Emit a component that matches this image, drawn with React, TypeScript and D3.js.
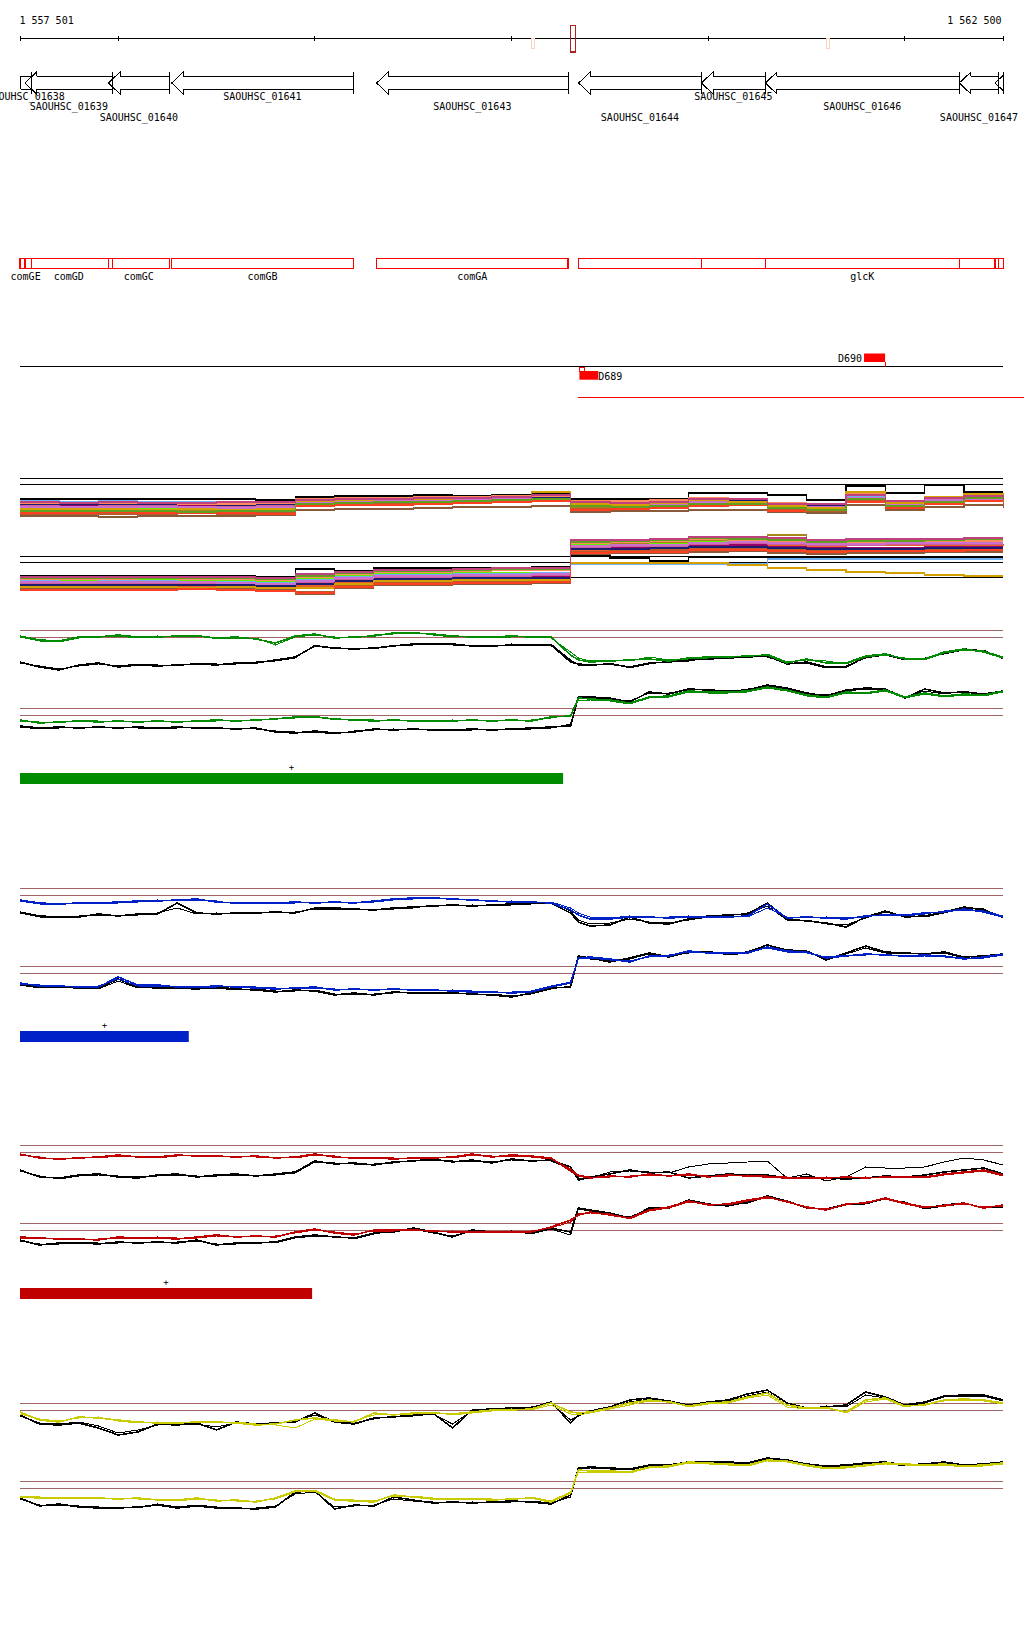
import React from "react";
import * as d3 from "d3";

// ---------- genome view ----------
const VIEW_START = 1557501;
const VIEW_END = 1562500;
const PROBE_ORIGIN = 1557500;
const axisTicks = [VIEW_START, 1558000, 1559000, 1560000, 1561000, 1562000, VIEW_END];
const axisLabels = ["1 557 501", "1 562 500"];
const axisMarks = [1560108, 1561609];
const cursorPos = 1560311;

// ---------- genes (all on minus strand) ----------
const geneIds = ["SAOUHSC_01638", "SAOUHSC_01639", "SAOUHSC_01640", "SAOUHSC_01641", "SAOUHSC_01643", "SAOUHSC_01644", "SAOUHSC_01645", "SAOUHSC_01646", "SAOUHSC_01647", "SAOUHSC_01648"];
const geneStarts = [1557440, 1557526, 1557950, 1558272, 1559314, 1560341, 1560965, 1561290, 1562276, 1562458];
const geneEnds = [1557558, 1557972, 1558260, 1559195, 1560287, 1560965, 1561290, 1562276, 1562477, 1562560];
const geneNames = ["comGE", "comGD", "comGC", "comGB", "comGA", "", "", "glcK", "", ""];
const geneLabelRow = [0, 1, 2, 0, 1, 2, 0, 1, 2, -1];

// ---------- features ----------
const featNames = ["D689", "D690"];
const featStarts = [1560345, 1561792];
const featEnds = [1560441, 1561899];
const featStrands = [-1, 1];
const regionStart = 1560338;

// ---------- probe grids ----------
const probeOffsets = [...d3.range(0, 2801, 100), 2840, ...d3.range(2900, 5001, 100)];
const multiOffsets = d3.range(0, 5001, 200);

const panelThresholds = [110, 103, 32, 25];
const multiThresholds = [122, 116, 44, 38];

// ---------- green panel ----------
const gUpC1 = [104,100,99,103,103,105,103,103,104,104,102,103,101,97,104,106,102,103,104,107,107,106,104,103,103,104,103,103,85,80,78,79,80,81,79,82,83,83,84,85,77,81,77,77,84,86,81,81,88,91,88,82];
const gUpC2 = [103,99,98,102,104,104,102,104,103,105,101,102,102,95,103,105,103,102,105,106,108,105,103,104,102,103,104,102,88,82,79,80,79,83,80,81,82,84,83,86,78,80,79,76,83,85,82,80,87,90,89,83];
const gUpK1 = [78,73,70,75,77,73,75,74,75,76,75,77,77,80,83,94,92,91,92,94,96,96,96,94,94,95,95,95,78,76,75,76,73,77,78,80,81,82,83,84,76,78,73,73,83,86,81,81,87,91,89,82];
const gUpK2 = [77,74,71,74,76,74,76,75,74,77,76,76,78,79,82,95,91,92,91,95,95,97,95,95,93,96,94,96,80,75,74,77,72,76,79,79,82,81,84,83,77,77,72,74,82,85,80,82,86,90,90,81];
const gLoC1 = [20,17,18,19,18,19,18,19,18,19,20,19,20,21,23,23,21,20,19,20,19,19,19,20,19,20,19,23,24,42,41,40,37,43,44,49,48,48,49,53,50,45,43,48,47,50,43,47,44,46,45,49];
const gLoC2 = [19,18,17,20,19,18,19,18,19,18,19,20,19,22,22,24,20,21,20,19,20,18,20,19,20,19,20,22,25,40,40,39,36,42,43,48,47,47,48,52,49,44,42,47,46,49,42,46,43,45,44,48];
const gLoK1 = [14,12,13,12,13,12,13,12,13,12,12,11,12,8,7,9,7,8,11,10,11,10,10,11,10,11,12,13,14,43,43,42,38,48,46,51,50,49,50,55,52,47,44,50,52,51,42,51,47,48,46,49];
const gLoK2 = [13,11,12,13,12,13,12,11,12,13,11,12,11,9,8,8,6,9,10,11,10,11,9,10,11,10,11,12,16,42,42,41,39,47,47,50,51,48,51,54,51,46,45,49,51,50,43,49,46,49,45,48];

// ---------- blue panel ----------
const bUpC1 = [98,95,94,95,95,96,97,97,98,99,96,95,95,95,96,95,96,95,97,99,100,100,99,98,97,96,96,95,88,83,79,79,81,81,80,81,81,81,82,94,80,81,80,79,82,83,83,85,86,89,86,81];
const bUpC2 = [97,94,93,96,94,95,96,98,97,98,97,94,96,94,95,96,95,96,96,98,99,101,98,99,96,97,95,96,90,85,81,80,82,80,81,82,80,82,81,90,81,80,81,80,81,84,82,84,87,88,87,82];
const bUpK1 = [86,82,81,81,84,82,84,84,95,85,84,85,85,86,85,90,90,89,88,90,91,92,93,92,93,94,95,95,85,76,72,73,81,75,74,79,82,83,84,95,79,77,75,71,81,87,81,82,86,91,88,81];
const bUpK2 = [85,81,80,82,83,83,83,85,90,84,85,84,86,85,86,89,89,88,89,89,90,93,92,93,92,93,94,96,87,78,74,75,79,76,75,78,81,82,85,92,78,78,74,73,80,86,82,81,85,90,89,80];
const bLoC1 = [15,12,12,11,11,21,13,13,11,11,12,11,10,9,10,11,8,9,8,9,8,8,7,6,6,5,6,11,15,40,41,39,36,42,42,47,45,45,45,51,47,46,40,42,44,43,42,43,42,39,41,44];
const bLoC2 = [14,13,11,12,12,19,12,12,12,10,11,12,11,10,9,10,9,8,9,8,9,7,8,7,5,6,7,12,16,39,40,38,37,41,43,46,46,44,46,50,46,45,41,43,43,44,41,42,41,40,40,43];
const bLoK1 = [14,11,11,10,10,19,11,10,10,9,11,9,8,6,8,7,3,5,3,6,5,5,5,4,3,1,5,10,11,42,40,36,40,45,41,46,46,44,46,53,48,47,38,45,52,46,45,44,46,41,42,44];
const bLoK2 = [13,10,12,11,9,17,10,11,9,10,10,8,9,7,7,8,4,4,4,5,6,4,6,3,4,2,4,9,12,41,39,37,39,44,42,45,47,43,45,51,47,46,39,44,50,45,44,45,45,40,43,43];

// ---------- red panel ----------
const rUpC1 = [101,97,96,97,98,100,98,98,100,99,99,98,99,97,98,101,98,97,97,96,97,97,98,101,98,100,99,97,84,79,77,79,78,81,79,81,78,80,79,78,77,77,77,78,77,78,78,78,81,83,85,80];
const rUpC2 = [100,98,95,98,97,99,99,97,99,100,98,99,98,98,97,100,99,96,98,97,96,98,97,100,99,99,98,96,86,80,78,78,79,80,80,80,79,79,80,79,78,76,78,77,78,77,79,77,80,82,84,79];
const rUpK1 = [85,78,77,80,81,78,77,80,81,78,80,81,79,81,83,94,91,92,90,93,94,96,93,95,92,96,94,95,88,75,78,81,85,82,83,77,79,81,80,80,77,78,77,76,77,79,78,80,83,85,87,81];
const rUpK2 = [84,79,76,79,80,79,78,79,80,79,79,80,80,80,82,93,92,91,91,92,95,95,94,94,93,95,95,94,86,77,77,83,84,83,82,88,91,92,93,94,77,81,74,78,88,87,87,88,93,97,95,90];
const rLoC1 = [18,17,16,16,15,18,17,17,16,18,20,18,19,18,23,26,22,20,25,25,25,24,23,23,23,23,23,28,35,40,43,40,37,45,48,54,50,51,55,58,53,48,45,51,52,57,52,48,49,52,47,50];
const rLoC2 = [17,16,17,15,16,17,16,18,17,17,19,19,18,19,22,25,23,21,24,24,26,23,24,22,24,22,24,27,33,41,42,41,36,44,47,53,51,50,54,57,54,47,46,50,53,56,51,47,50,51,48,49];
const rLoK1 = [15,10,12,12,11,13,12,13,12,15,10,12,12,13,18,20,18,17,22,23,27,23,18,25,23,23,22,27,23,47,45,42,37,47,47,55,51,49,53,59,54,47,46,51,52,57,52,47,50,52,47,49];
const rLoK2 = [14,11,11,13,12,12,13,12,13,14,11,11,13,12,17,19,19,16,21,24,26,22,19,24,22,24,21,26,20,46,44,41,38,46,48,54,50,50,52,58,53,48,45,50,51,56,53,46,49,51,48,48];

// ---------- yellow panel ----------
const yUpC1 = [101,93,91,96,95,93,91,90,90,91,91,90,88,89,93,95,93,91,100,98,100,100,99,101,103,103,104,110,101,100,101,105,110,113,111,107,110,111,116,120,108,105,105,101,113,115,107,108,113,114,113,110];
const yUpC2 = [99,94,92,95,96,92,90,91,89,92,90,91,89,88,85,94,92,92,98,99,99,101,98,100,102,104,103,108,99,98,100,104,108,112,112,106,109,110,115,118,106,104,106,100,111,114,106,109,112,113,112,109];
const yUpK1 = [98,89,88,90,85,78,81,89,88,90,83,91,89,90,91,100,91,89,95,96,98,100,85,103,104,105,105,111,90,98,102,106,113,115,112,108,111,113,119,123,110,105,106,108,121,116,108,111,117,118,118,113];
const yUpK2 = [97,90,89,91,87,80,83,88,89,89,86,90,90,89,92,98,92,90,94,97,97,99,89,102,103,104,106,110,93,97,101,105,111,114,111,107,110,112,117,121,108,104,107,106,118,115,107,110,116,117,117,112];
const yLoC1 = [16,15,15,15,15,14,15,13,13,15,12,13,11,15,22,22,13,12,11,18,16,14,14,14,13,14,15,11,20,43,42,42,41,46,47,51,50,49,48,53,52,48,45,46,48,50,49,48,49,47,48,50];
const yLoC2 = [17,16,14,16,15,15,14,14,12,14,13,12,12,14,21,23,14,13,12,17,17,15,13,15,14,13,16,12,21,41,41,41,40,45,46,50,49,48,47,52,51,47,44,45,47,49,48,47,48,46,47,49];
const yLoK1 = [15,7,9,6,5,5,6,8,5,7,5,5,4,6,21,22,4,8,7,16,13,10,11,10,11,12,11,9,18,45,46,45,44,48,48,51,51,51,50,55,53,49,47,48,50,51,48,49,51,48,49,51];
const yLoK2 = [14,8,8,7,6,6,5,9,6,8,6,4,5,7,19,21,6,7,8,14,12,11,10,11,10,11,12,10,16,44,45,44,43,47,47,50,50,50,49,54,52,48,46,47,49,50,47,48,50,47,48,50];

// ---------- multi-strain panel ----------
const multiColors = ["#000000", "#e8602c", "#a8841c", "#66ee00", "#990066", "#70b0f0", "#d0609a", "#b85a2a", "#1c1c70", "#ff8c5a", "#8a5a3a", "#cc70d0", "#d4a000", "#ff4020", "#60a020", "#c04080"];
const multiUpper = [
  [101,101,101,101,101,101,100,103,104,104,105,104,105,106,101,101,101,107,107,105,100,114,107,115,108,108],
  [90,90,91,90,91,90,91,97,98,99,100,101,101,103,95,96,96,99,99,93,92,103,96,101,104,101],
  [88,88,87,88,89,88,88,96,97,97,99,100,100,102,93,94,95,98,97,91,91,102,95,100,103,100],
  [92,92,92,92,93,92,93,98,99,100,100,101,101,102,96,96,97,99,100,95,94,104,98,102,103,99],
  [95,95,94,95,95,96,95,99,100,100,101,102,102,101,97,97,98,100,98,94,93,101,97,100,101,98],
  [99,98,99,98,98,97,96,99,101,100,102,101,100,100,98,98,99,100,100,96,95,103,98,99,102,99],
  [94,93,94,94,93,93,94,97,98,99,99,100,101,100,96,95,96,97,98,93,93,100,96,99,100,97],
  [86,85,86,86,87,86,87,95,96,96,97,98,99,100,91,92,93,95,96,90,89,99,93,97,100,96],
  [96,96,96,96,96,95,96,100,100,101,101,102,102,103,97,98,98,99,99,95,94,102,97,100,102,100],
  [97,97,97,97,96,96,97,101,102,102,103,103,104,104,99,99,100,102,101,97,96,106,99,103,105,102],
  [84,84,83,84,84,84,85,90,91,91,92,93,93,94,88,89,89,90,90,88,87,95,90,93,95,92],
  [93,93,93,93,93,92,93,98,98,99,100,100,101,101,95,96,96,98,98,94,93,102,96,100,101,98],
  [91,91,91,90,91,90,91,99,100,101,101,102,103,108,96,95,97,100,98,94,92,108,97,103,106,100],
  [87,87,88,87,87,87,86,94,95,95,96,97,98,99,90,91,92,94,95,89,90,98,92,96,99,95],
  [89,89,89,89,88,89,89,96,97,98,98,99,100,101,94,93,94,96,96,92,90,101,94,98,102,98],
  [98,97,98,97,97,98,98,100,101,101,102,102,103,105,98,97,98,101,101,96,96,105,99,102,104,100],
];
const multiLower = [
  [24,24,24,24,24,24,23,31,29,32,32,32,32,33,44,42,39,43,43,43,43,42,42,42,43,43],
  [14,13,14,14,13,14,12,14,18,20,20,21,21,22,50,51,52,55,56,55,54,55,55,55,55,56],
  [18,17,18,18,17,18,16,19,22,24,24,25,25,26,56,57,58,60,62,65,58,59,59,59,60,60],
  [20,20,19,20,20,19,18,21,24,26,26,27,27,27,55,55,56,58,59,58,56,57,57,58,58,58],
  [16,16,17,16,16,17,15,18,20,22,22,23,23,23,52,52,53,54,55,53,52,52,52,53,53,53],
  [19,18,19,19,18,18,17,20,23,25,25,26,26,27,36,36,36,36,36,41,41,41,41,41,41,41],
  [17,17,16,17,17,16,15,17,21,23,23,24,24,25,53,54,54,56,57,56,55,55,56,56,56,56],
  [11,11,12,11,11,12,10,8,14,17,17,18,18,19,48,49,50,51,52,50,49,50,50,50,51,51],
  [15,15,15,15,15,15,14,16,19,21,21,22,22,22,51,51,52,53,53,52,51,51,51,52,52,52],
  [21,21,21,22,21,21,20,23,26,28,28,29,30,30,57,58,59,61,60,59,57,58,58,59,59,59],
  [12,12,11,12,12,11,10,6,12,15,15,16,16,17,46,47,47,48,49,47,46,47,47,48,48,48],
  [18,18,18,18,18,17,16,19,22,24,24,25,25,26,54,55,55,57,58,57,56,56,57,57,57,57],
  [13,13,13,13,12,13,12,12,16,19,19,20,20,20,37,37,37,37,35,32,30,28,27,25,24,24],
  [10,10,10,10,11,10,9,7,13,16,16,17,17,18,47,48,48,50,50,49,48,49,49,49,50,50],
  [22,22,22,22,22,22,21,24,27,29,29,30,31,31,58,59,60,62,61,60,58,59,59,60,61,61],
  [23,23,23,23,23,23,22,26,28,30,30,31,32,32,60,60,61,63,63,62,60,61,61,61,62,62],
];
const multiLowerFlat = [null,null,null,null,null,null,null,null,null,null,null,null,null,null,23,23,23,23,23,23,23,23,23,23,23,23];

const panelColors = ["#008c00", "#0020c8", "#c00000", "#c8cc00"];
const barEnds = [1560262, 1558359, 1558986, null];

export default function App() {
  const X0 = 20, X1 = 1003.3;
  const x = d3.scaleLinear().domain([VIEW_START, VIEW_END]).range([X0, X1]);
  const font = "DejaVu Sans Mono";

  const panels = [
    { base: 740, up: [gUpK2, gUpK1, gUpC2, gUpC1], lo: [gLoK2, gLoK1, gLoC2, gLoC1] },
    { base: 998, up: [bUpK2, bUpK1, bUpC2, bUpC1], lo: [bLoK2, bLoK1, bLoC2, bLoC1] },
    { base: 1255, up: [rUpK2, rUpK1, rUpC2, rUpC1], lo: [rLoK2, rLoK1, rLoC2, rLoC1] },
    { base: 1513, up: [yUpK2, yUpK1, yUpC2, yUpC1], lo: [yLoK2, yLoK1, yLoC2, yLoC1] },
  ];

  const ym = d3.scaleLinear().domain([0, 120]).range([600, 480]);
  const multiLine = d3
    .line<number | null>()
    .defined((d) => d != null)
    .x((_, i) => x(PROBE_ORIGIN + multiOffsets[i]))
    .y((d) => ym(d as number))
    .curve(d3.curveStepAfter);

  const genePath = (s: number, e: number) => {
    const xs = x(s);
    const xe = Math.min(x(e), X1);
    const top = 76, bot = 89, ht = 72, hb = 94, mid = 83;
    if (xs < X0) {
      const a = X0 + 0.5;
      return `M${a},${top}L${xe},${top}M${a},${bot}L${xe},${bot}M${a},${top}L${a},${bot}M${xe},${ht}L${xe},${hb}`;
    }
    const h = xs + 11.7;
    return `M${h},${top}L${h},${ht}L${xs},${mid}L${h},${hb}L${h},${bot}M${h},${top}L${xe},${top}M${h},${bot}L${xe},${bot}M${xe},${ht}L${xe},${hb}`;
  };
  const clampX = (v: number) => Math.max(X0, Math.min(X1, v));
  const rowBase = [99.5, 109.5, 121];

  return (
    <svg
      width={1024}
      height={1640}
      style={{ position: "absolute", left: 0, top: 0, background: "#fff" }}
      fontFamily={font}
      fontSize={10}
    >
      <defs>
        <clipPath id="view">
          <rect x={X0 - 0.5} y={0} width={X1 - X0 + 1.2} height={1640} />
        </clipPath>
      </defs>

      {/* axis */}
      <text x={19.5} y={24} fill="#000">{axisLabels[0]}</text>
      <text x={1001.5} y={24} fill="#000" textAnchor="end">{axisLabels[1]}</text>
      <line x1={X0} x2={X1} y1={38.5} y2={38.5} stroke="#000" shapeRendering="crispEdges" />
      {axisTicks.map((t) => (
        <line key={t} x1={x(t)} x2={x(t)} y1={36} y2={41} stroke="#000" shapeRendering="crispEdges" />
      ))}
      {axisMarks.map((m) => (
        <rect key={m} x={x(m) - 1.5} y={38.5} width={3} height={9.5} fill="none" stroke="#ffd2c0" shapeRendering="crispEdges" />
      ))}
      <rect x={x(cursorPos) - 2.5} y={25.5} width={5} height={26.5} fill="none" stroke="#b22020" strokeWidth={1.3} shapeRendering="crispEdges" />

      {/* gene arrows */}
      <g clipPath="url(#view)">
        {geneStarts.map((s, i) => (
          <path key={geneIds[i]} d={genePath(s, geneEnds[i])} fill="none" stroke="#000" shapeRendering="crispEdges" />
        ))}
      </g>
      {geneIds.map((id, i) =>
        geneLabelRow[i] < 0 ? null : (
          <text key={id} x={(clampX(x(geneStarts[i])) + clampX(x(geneEnds[i]))) / 2} y={rowBase[geneLabelRow[i]]} textAnchor="middle" fill="#000">
            {id}
          </text>
        )
      )}

      {/* gene boxes */}
      {geneStarts.map((s, i) => (
        <rect key={"b" + i} x={clampX(x(s))} y={258.5} width={clampX(x(geneEnds[i])) - clampX(x(s))} height={10} fill="none" stroke="#ff0000" strokeWidth={1.3} shapeRendering="crispEdges" />
      ))}
      {geneNames.map((n, i) =>
        n ? (
          <text key={"n" + i} x={(clampX(x(geneStarts[i])) + clampX(x(geneEnds[i]))) / 2} y={279.5} textAnchor="middle" fill="#000">
            {n}
          </text>
        ) : null
      )}

      {/* features */}
      <line x1={X0} x2={X1} y1={366.5} y2={366.5} stroke="#000" shapeRendering="crispEdges" />
      {featNames.map((n, i) => {
        const xs = x(featStarts[i]);
        const xe = x(featEnds[i]);
        if (featStrands[i] > 0) {
          return (
            <g key={n}>
              <rect x={xs} y={353.5} width={xe - xs} height={8.5} fill="#ff0000" />
              <line x1={xe} x2={xe} y1={362} y2={366.5} stroke="#ff0000" shapeRendering="crispEdges" />
              <text x={xs - 2} y={361.7} textAnchor="end" fill="#000">{n}</text>
            </g>
          );
        }
        return (
          <g key={n}>
            <rect x={xs + 0.5} y={367} width={5} height={4} fill="none" stroke="#ff0000" shapeRendering="crispEdges" />
            <rect x={xs} y={371} width={xe - xs} height={8.7} fill="#ff0000" />
            <text x={xe} y={380} fill="#000">{n}</text>
          </g>
        );
      })}
      <line x1={x(regionStart)} x2={1024} y1={397.5} y2={397.5} stroke="#ff0000" strokeWidth={1.5} shapeRendering="crispEdges" />

      {/* multi-strain panel */}
      {multiThresholds.map((t) => (
        <line key={"mt" + t} x1={X0} x2={X1} y1={ym(t) + 0.5} y2={ym(t) + 0.5} stroke="#000" shapeRendering="crispEdges" />
      ))}
      <g fill="none" shapeRendering="crispEdges">
        {multiUpper.map((s, i) => (
          <path key={"mu" + i} d={multiLine(s) || ""} stroke={multiColors[i]} strokeWidth={1.2} />
        ))}
        {multiLower.map((s, i) => (
          <path key={"ml" + i} d={multiLine(s) || ""} stroke={multiColors[i]} strokeWidth={1.2} />
        ))}
        <path d={multiLine(multiLowerFlat) || ""} stroke="#000" strokeWidth={1} />
      </g>

      {/* colored panels */}
      {panels.map((p, pi) => {
        const y = d3.scaleLinear().domain([0, 120]).range([p.base, p.base - 120]);
        const line = d3
          .line<number>()
          .x((_, i) => x(PROBE_ORIGIN + probeOffsets[i]))
          .y((d) => y(d));
        const color = panelColors[pi];
        const styles = [
          { c: "#000", w: 1 },
          { c: "#000", w: 1.6 },
          { c: color, w: 1 },
          { c: color, w: 1.6 },
        ];
        const be = barEnds[pi];
        return (
          <g key={"p" + pi}>
            {panelThresholds.map((t) => (
              <line key={t} x1={X0} x2={X1} y1={y(t) + 0.5} y2={y(t) + 0.5} stroke="#a06464" strokeWidth={1} shapeRendering="crispEdges" />
            ))}
            <g fill="none" shapeRendering="crispEdges">
              {p.up.map((s, i) => (
                <path key={"u" + i} d={line(s) || ""} stroke={styles[i].c} strokeWidth={styles[i].w} />
              ))}
              {p.lo.map((s, i) => (
                <path key={"l" + i} d={line(s) || ""} stroke={styles[i].c} strokeWidth={styles[i].w} />
              ))}
            </g>
            {be != null ? (
              <g>
                <rect x={x(VIEW_START)} y={p.base + 33} width={x(be) - x(VIEW_START)} height={11} fill={color} />
                <text x={(x(VIEW_START) + x(be)) / 2} y={p.base + 29.5} textAnchor="middle" fill="#000" fontSize={9}>
                  +
                </text>
              </g>
            ) : null}
          </g>
        );
      })}
    </svg>
  );
}
